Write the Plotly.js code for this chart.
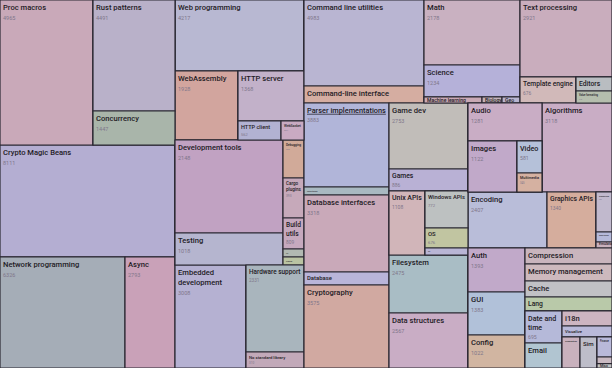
<!DOCTYPE html>
<html>
<head>
<meta charset="utf-8">
<script src="https://cdn.plot.ly/plotly-3.0.1.min.js"></script>
<style>html,body{margin:0;padding:0;background:#fff;}#chart{width:612px;height:368px;}</style>
</head>
<body>
<div id="chart"></div>
<script>
// ---- DATA ----
// tile ids (leaf ids are the category names), parent ids
var ids = [
  "all",
  "c1","c1a","Proc macros","c1a2","Rust patterns","Concurrency","Crypto Magic Beans","c1c","Network programming","Async",
  "c2","Web programming","c2b","WebAssembly","c2b2","HTTP server","c2b3","HTTP client","WebSocket",
  "c2c","c2c1","Development tools","Testing","c2c2","Debugging","Cargo plugins","Build utils","FFI","Profiling",
  "c2d","Embedded development","c2d2","Hardware support","No standard library",
  "r","rt","rt1","Command line utilities","Command-line interface",
  "rt2","Math","Science","rt2s","Machine learning","Biology","Geo",
  "rt3","Text processing","rt3b","Template engine","rt3c","Editors","Value formatting",
  "rb","rb1","Parser implementations","Parser tooling","Database interfaces","Database","Cryptography",
  "rb2","Game dev","Games","rb2u","Unix APIs","rb2w","Windows APIs","OS","Apple","Filesystem","Data structures",
  "rb3","rb3a","rb3a1","Audio","rb3a2","Images","rb3a3","Video","Multimedia","Algorithms",
  "rb3b","Encoding","Graphics APIs","rb3b2","Rendering","Game engines","Emulators",
  "rb3c","rb3c1","Auth","GUI","Config","rb3c2","Compression","Memory management","Cache","Lang",
  "rb3c3","rb3c4","Date and time","Email","rb3c5","i18n","Visualize","rb3c6","Simulation","Sim","rb3c7","Finance","Accessibility","Misc"
];
var parents = [
  "",
  "all","c1","c1a","c1a","c1a2","c1a2","c1","c1","c1c","c1c",
  "all","c2","c2","c2b","c2b","c2b2","c2b2","c2b3","c2b3",
  "c2","c2c","c2c1","c2c1","c2c","c2c2","c2c2","c2c2","c2c2","c2c2",
  "c2","c2d","c2d","c2d2","c2d2",
  "all","r","rt","rt1","rt1",
  "rt","rt2","rt2","rt2","rt2s","rt2s","rt2s",
  "rt","rt3","rt3","rt3b","rt3b","rt3c","rt3c",
  "r","rb","rb1","rb1","rb1","rb1","rb1",
  "rb","rb2","rb2","rb2","rb2u","rb2u","rb2w","rb2w","rb2w","rb2","rb2",
  "rb","rb3","rb3a","rb3a1","rb3a1","rb3a2","rb3a2","rb3a3","rb3a3","rb3a",
  "rb3","rb3b","rb3b","rb3b","rb3b2","rb3b2","rb3b2",
  "rb3","rb3c","rb3c1","rb3c1","rb3c1","rb3c","rb3c2","rb3c2","rb3c2","rb3c2",
  "rb3c2","rb3c3","rb3c4","rb3c4","rb3c3","rb3c5","rb3c5","rb3c5","rb3c6","rb3c6","rb3c6","rb3c7","rb3c7","rb3c7"
];
// relative tile weight (as read from tile areas); groups are 0 (sum of children)
var weights = [
  0,
  0,0,13485,0,9102,2788,19600,0,13875,5550,
  0,9159,0,4347,0,3300,0,817,437,
  0,0,10044,3456,0,798,840,651,168,168,
  0,7313,0,5046,928,
  0,0,0,10320,2040,
  0,6240,3072,0,348,120,108,
  0,7084,0,1456,0,504,432,
  0,0,7140,680,6545,1105,7055,
  0,5214,1738,0,2304,0,1591,860,301,4582,4345,
  0,0,0,2812,0,2499,0,800,475,6230,
  0,4424,2744,0,640,160,96,
  0,0,2508,2451,1881,0,1392,1479,1392,1218,
  0,0,1184,925,0,750,550,0,558,527,0,300,100,65
];
// crate counts printed under the labels (absent = not shown)
var counts = {
  "Proc macros":4965,"Rust patterns":4491,"Concurrency":1447,"Crypto Magic Beans":8111,
  "Network programming":6326,"Async":2793,"Web programming":4217,"WebAssembly":1928,
  "HTTP server":1368,"HTTP client":562,"WebSocket":334,"Development tools":2148,"Testing":1018,
  "Debugging":366,"Cargo plugins":393,"Build utils":809,"Embedded development":3008,
  "Hardware support":2331,"No standard library":310,"Command line utilities":4983,
  "Math":2178,"Science":1234,"Text processing":2921,
  "Template engine":676,"Value formatting":218,"Parser implementations":3883,"Database interfaces":3318,
  "Cryptography":3575,"Game dev":2753,"Games":886,"Unix APIs":1108,"Windows APIs":772,"OS":676,
  "Filesystem":2475,"Data structures":2567,"Audio":1281,"Images":1122,"Video":581,"Multimedia":345,
  "Algorithms":3118,"Encoding":2407,"Graphics APIs":1340,"Rendering":230,"Auth":1393,"GUI":1383,
  "Config":1022,"Date and time":695
};
// labels that wrap onto two lines in the reference
var wrapped = {
  "Embedded development":"Embedded<br>development","Date and time":"Date and<br>time",
  "Build utils":"Build<br>utils","Cargo plugins":"Cargo<br>plugins"
};

// ---- STYLE ----
var tileColor = {
  "Proc macros":"#c9a9b9","Rust patterns":"#b9b1c9","Concurrency":"#a9b5aa","Crypto Magic Beans":"#b4aed2",
  "Network programming":"#a5adb7","Async":"#c9a1b8","Web programming":"#b8b8d2","WebAssembly":"#d2a59e",
  "HTTP server":"#c2b1c9","HTTP client":"#b2b2d2","WebSocket":"#c9aac2","Development tools":"#c1a2c2",
  "Testing":"#b5b5cf","Debugging":"#d1aa99","Cargo plugins":"#c6a9ba","Build utils":"#c6a9be",
  "FFI":"#b2b9b2","Profiling":"#bac3a2","Embedded development":"#b5b1d2","Hardware support":"#a9b5bd",
  "No standard library":"#c2a9b9","Command line utilities":"#b9b5d2","Command-line interface":"#d5ada1",
  "Math":"#c9b1c1","Science":"#b5b1d9","Machine learning":"#c9a9b5","Biology":"#c2b2b9","Geo":"#b9b5d0",
  "Text processing":"#c9adbd","Template engine":"#d1b9b9","Editors":"#b9bdc1","Value formatting":"#b5beae",
  "Parser implementations":"#b1b5d9","Parser tooling":"#a9b9c1","Database interfaces":"#c9a9b9",
  "Database":"#b9b5d9","Cryptography":"#d1a9a1","Game dev":"#c1bdb9","Games":"#b9b1d5",
  "Unix APIs":"#d1b5b9","Windows APIs":"#bdc1c1","OS":"#c1c5a1","Apple":"#b9b5d5","Filesystem":"#a9bdc5",
  "Data structures":"#c9adc5","Audio":"#c9adc5","Images":"#c1a9c9","Video":"#b5c1d9","Multimedia":"#d5b1a1",
  "Algorithms":"#c9adc5","Encoding":"#b9bdd9","Graphics APIs":"#d5ad9d","Rendering":"#c1b9cd",
  "Game engines":"#b5b9d9","Emulators":"#c9b1bd","Auth":"#c1a9c9","GUI":"#b1c1d9","Config":"#d1b5a1",
  "Compression":"#c9b5bd","Memory management":"#cdb9bd","Cache":"#c1c1c5","Lang":"#b9c9a9",
  "Date and time":"#b5b9d9","Email":"#b1c5d1","i18n":"#cdb5c1","Visualize":"#b9b9d9","Simulation":"#c9b1bd",
  "Sim":"#bdbdc9","Finance":"#b9b9d9","Accessibility":"#c9b9c1","Misc":"#c1c1c1"
};

var colors = ids.map(function(id){ return tileColor[id] || "#bbbbbb"; });
var texts = ids.map(function(id){
  if(!tileColor[id]) return "";
  var lab = wrapped[id] || id;
  if(id === "Parser implementations") lab = '<span style="text-decoration:underline">' + id + '</span>';
  if(counts[id] != null) return lab + '<br><span style="font-size:5.5px;font-weight:400;fill:#80768a">' + counts[id] + '</span>';
  return lab;
});

var trace = {
  type: "treemap",
  ids: ids,
  labels: ids,
  parents: parents,
  values: weights,
  branchvalues: "remainder",
  sort: false,
  text: texts,
  textinfo: "text",
  textposition: "top left",
  textfont: {family: "Roboto, 'Open Sans', sans-serif", size: 7.6, color: "#1f1b25", weight: 500},
  tiling: {packing: "slice-dice", pad: 0},
  marker: {colors: colors, line: {color: "#2b2833", width: 1.2}, pad: {t: 0, l: 0, r: 0, b: 0}},
  leaf: {opacity: 1},
  pathbar: {visible: false},
  hoverinfo: "none"
};

Plotly.newPlot("chart", [trace], {
  width: 612, height: 368,
  margin: {l: 0, r: 0, t: 0, b: 0},
  paper_bgcolor: "#ffffff"
}, {displayModeBar: false, staticPlot: true});
</script>
</body>
</html>
